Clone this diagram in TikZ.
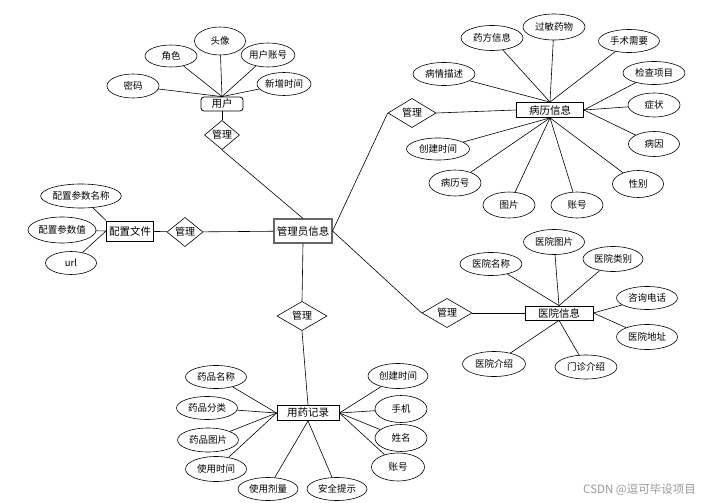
\documentclass[tikz,border=0pt]{standalone}
\usepackage{fontspec}
\setmainfont{Noto Sans CJK SC}
\usetikzlibrary{shapes.geometric}
\begin{document}
\begin{tikzpicture}[x=1pt,y=-1pt,
  every node/.style={font=\fontsize{9.5}{11}\selectfont, inner sep=0pt},
  attr/.style={ellipse, draw, line width=0.6pt, fill=white},
  ent/.style={rectangle, draw, line width=0.8pt, fill=white, font=\fontsize{10.5}{12}\selectfont},
  rel/.style={diamond, draw, line width=0.6pt, fill=white, font=\fontsize{10}{12}\selectfont},
  conn/.style={line width=0.6pt}]
\useasboundingbox (0,0) rectangle (705,503);
\fill[white] (0,0) rectangle (705,503);

% ---------- entities ----------
\node[ent, rounded corners=3pt, minimum width=42, minimum height=14] (user) at (222,104) {用户};
\node[ent, minimum width=67, minimum height=15] (bl) at (550,110) {病历信息};
\node[ent, draw=black!60, line width=1.1pt, minimum width=58, minimum height=24] (admin) at (303,231) {管理员信息};
\node[ent, line width=1pt, minimum width=47, minimum height=20] (cfg) at (130,231) {配置文件};
\node[ent, minimum width=68, minimum height=14] (yy) at (559,313) {医院信息};
\node[ent, minimum width=62, minimum height=15] (yj) at (308,413) {用药记录};

% ---------- relations ----------
\node[rel, minimum width=35, minimum height=25] (r1) at (222,135) {管理};
\node[rel, minimum width=48, minimum height=27] (r2) at (412,113) {管理};
\node[rel, minimum width=36, minimum height=20] (r3) at (185,232) {管理};
\node[rel, minimum width=50, minimum height=29] (r4) at (447,313) {管理};
\node[rel, minimum width=50, minimum height=29] (r5) at (302,316) {管理};

% ---------- user attributes ----------
\node[attr, minimum width=52, minimum height=24] (u1) at (133,86) {密码};
\node[attr, minimum width=52, minimum height=22] (u2) at (171,56) {角色};
\node[attr, minimum width=51, minimum height=28] (u3) at (220,41) {头像};
\node[attr, minimum width=51, minimum height=24] (u4) at (268,55) {用户账号};
\node[attr, minimum width=54, minimum height=23] (u5) at (284,84) {新增时间};
\foreach \a in {u1,u2,u3,u4,u5} \draw[conn] (\a) -- (user.north);

% ---------- medical record attributes ----------
\node[attr, minimum width=62, minimum height=25] (b1) at (492,38) {药方信息};
\node[attr, minimum width=62, minimum height=26] (b2) at (554,27) {过敏药物};
\node[attr, minimum width=61, minimum height=23] (b3) at (629,41) {手术需要};
\node[attr, minimum width=62, minimum height=23] (b4) at (654,73) {检查项目};
\node[attr, minimum width=52, minimum height=24] (b5) at (654,105) {症状};
\node[attr, minimum width=51, minimum height=25] (b6) at (654,144) {病因};
\node[attr, minimum width=51, minimum height=27] (b7) at (638,184) {性别};
\node[attr, minimum width=52, minimum height=26] (b8) at (577,205) {账号};
\node[attr, minimum width=52, minimum height=26] (b9) at (509,205) {图片};
\node[attr, minimum width=52, minimum height=26] (b10) at (455,183) {病历号};
\node[attr, minimum width=63, minimum height=22] (b11) at (438,149) {创建时间};
\node[attr, minimum width=62, minimum height=23] (b12) at (444,74) {病情描述};
\foreach \a in {b1,b2,b3,b12} \draw[conn] (\a) -- (bl.north);
\foreach \a in {b4,b5,b6} \draw[conn] (\a) -- (bl.east);
\foreach \a in {b7,b8,b9,b10,b11} \draw[conn] (\a) -- (bl.south);

% ---------- config attributes ----------
\node[attr, minimum width=78, minimum height=24] (c1) at (81,196) {配置参数名称};
\node[attr, minimum width=68, minimum height=26] (c2) at (62,230) {配置参数值};
\node[attr, minimum width=51, minimum height=23] (c3) at (71,263) {url};
\draw[conn] (c1) -- (cfg.north west);
\draw[conn] (c2) -- (cfg.west);
\draw[conn] (c3) -- (cfg.west);

% ---------- hospital attributes ----------
\node[attr, minimum width=62, minimum height=23] (h1) at (491,264) {医院名称};
\node[attr, minimum width=61, minimum height=25] (h2) at (554,242) {医院图片};
\node[attr, minimum width=60, minimum height=25] (h3) at (613,259) {医院类别};
\node[attr, minimum width=61, minimum height=23] (h4) at (647,298) {咨询电话};
\node[attr, minimum width=61, minimum height=25] (h5) at (647,337) {医院地址};
\node[attr, minimum width=62, minimum height=24] (h6) at (586,367) {门诊介绍};
\node[attr, minimum width=63, minimum height=25] (h7) at (494,364) {医院介绍};
\foreach \a in {h1,h2,h3} \draw[conn] (\a) -- (yy.north);
\foreach \a in {h4,h5} \draw[conn] (\a) -- (yy.east);
\foreach \a in {h6,h7} \draw[conn] (\a) -- (yy.south);

% ---------- medication record attributes ----------
\node[attr, minimum width=61, minimum height=23] (m1) at (216,377) {药品名称};
\node[attr, minimum width=61, minimum height=23] (m2) at (207,408) {药品分类};
\node[attr, minimum width=61, minimum height=24] (m3) at (208,440) {药品图片};
\node[attr, minimum width=61, minimum height=25] (m4) at (216,469) {使用时间};
\node[attr, minimum width=60, minimum height=23] (m5) at (268,489) {使用剂量};
\node[attr, minimum width=60, minimum height=23] (m6) at (337,489) {安全提示};
\node[attr, minimum width=60, minimum height=25] (m7) at (398,376) {创建时间};
\node[attr, minimum width=52, minimum height=27] (m8) at (401,409) {手机};
\node[attr, minimum width=52, minimum height=27] (m9) at (401,438) {姓名};
\node[attr, minimum width=53, minimum height=28] (m10) at (398,467) {账号};
\foreach \a in {m1,m2,m3,m4} \draw[conn] (\a) -- (yj.west);
\foreach \a in {m5,m6} \draw[conn] (\a) -- (yj.south);
\foreach \a in {m7,m8,m9,m10} \draw[conn] (\a) -- (yj.east);

% ---------- relation connectors ----------
\draw[conn] (user) -- (r1);
\draw[conn] (r1.south) -- (admin.north);
\draw[conn] (admin.east) -- (r2.west);
\draw[conn] (r2.east) -- (bl.west);
\draw[conn] (cfg) -- (r3);
\draw[conn] (r3) -- (admin);
\draw[conn] (admin.east) -- (r4.west);
\draw[conn] (r4) -- (yy);
\draw[conn] (admin.south) -- (r5.north);
\draw[conn] (r5.south) -- (yj.north);

% watermark
\node[text=black!40, font=\fontsize{11.5}{13}\selectfont, anchor=east] (wm) at (696,490) {CSDN @逗可毕设项目};
\end{tikzpicture}
\end{document}
